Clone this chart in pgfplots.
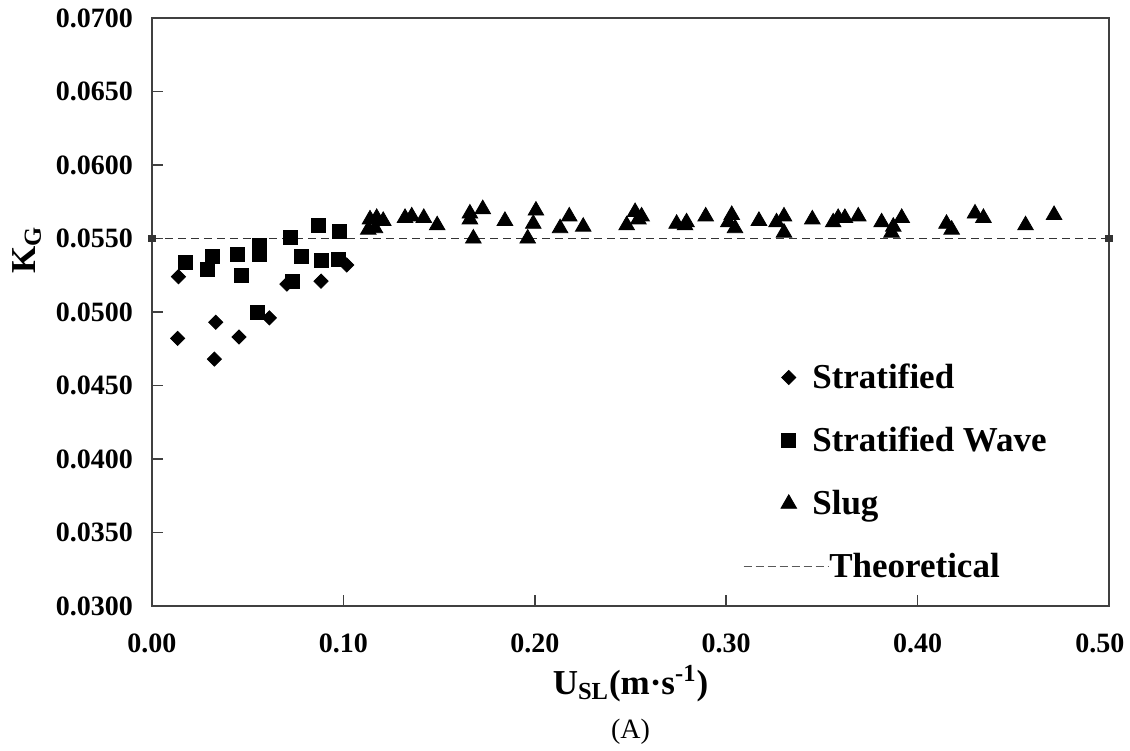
\documentclass[border=0pt]{standalone}
\usepackage{fontspec}
\setmainfont{Liberation Serif}
\usepackage{pgfplots}
\pgfplotsset{compat=1.18}

\begin{document}
\begin{tikzpicture}
\useasboundingbox (-76pt,-72pt) rectangle (489pt,303pt);
\begin{axis}[
    name=ax,
    at={(0pt,0pt)}, anchor=south west,
    scale only axis,
    width=478.5pt, height=294pt,
    xmin=0, xmax=0.5, ymin=0.03, ymax=0.07,
    clip=false,
    xtick={0,0.1,0.2,0.3,0.4,0.5},
    xticklabels={0.00,0.10,0.20,0.30,0.40,\hspace*{-9pt}0.50},
    ytick={0.030,0.035,0.040,0.045,0.050,0.055,0.060,0.065,0.070},
    scaled x ticks=false, scaled y ticks=false,
    tick align=inside, xtick pos=bottom, ytick pos=left,
    major tick length=5.5pt,
    axis line style={black!75, line width=1pt},
    tick style={black!75, line width=0.8pt},
    /pgf/number format/assume math mode=true,
    tick label style={font=\fontsize{14}{16}\selectfont\bfseries},
    xticklabel style={yshift=-10.5pt},
    yticklabel style={xshift=-6pt, /pgf/number format/.cd, fixed, fixed zerofill, precision=4},
    xlabel={U\textsubscript{SL}(m·s\textsuperscript{-1})},
    ylabel={K\textsubscript{G}},
    label style={font=\fontsize{17.5}{20}\selectfont\bfseries},
    xlabel style={at={(ticklabel cs:0.5,-0.5pt)}},
    ylabel style={at={(ticklabel cs:0.605,0.5pt)}},
    legend style={
        draw=none, fill=none,
        font=\fontsize{17.5}{21}\selectfont\bfseries,
        at={(rel axis cs:0.611,0.4265)}, anchor=north west,
        row sep=13.8pt
    },
    legend cell align=left
]

% Stratified
\addplot[only marks, mark=square*, mark size=2.5pt, mark options={rotate=45}, black] coordinates {
    (0.0138,0.0524) (0.0134,0.0482) (0.0333,0.0493) (0.0326,0.0468)
    (0.0455,0.0483) (0.0613,0.0496) (0.0705,0.0519) (0.0883,0.0521)
    (0.1017,0.0532)
};
\addlegendentry{\hspace*{-10.5pt}Stratified}

% Stratified Wave
\addplot[only marks, mark=square*, mark size=3.5pt, black] coordinates {
    (0.0176,0.0534) (0.0289,0.0529) (0.0315,0.0538) (0.0448,0.0539)
    (0.0465,0.0525) (0.0559,0.0545) (0.0559,0.0539) (0.0550,0.0500)
    (0.0721,0.0551) (0.0735,0.0521) (0.0778,0.0538) (0.0869,0.0559)
    (0.0883,0.0535) (0.0979,0.0555) (0.0974,0.0536)
};
\addlegendentry{\hspace*{-10.5pt}Stratified Wave}

% Slug
\addplot[only marks, mark=triangle*, mark size=4.5pt, black] coordinates {
    (0.1130,0.0556) (0.1165,0.0557) (0.1139,0.0563) (0.1174,0.0564)
    (0.1208,0.0562) (0.1322,0.0564) (0.1357,0.0565) (0.1420,0.0564)
    (0.1490,0.0559) (0.1661,0.0567) (0.1661,0.0563) (0.1728,0.0570)
    (0.1679,0.0550) (0.1844,0.0562) (0.2006,0.0569) (0.1992,0.0560)
    (0.1963,0.0550) (0.2132,0.0557) (0.2180,0.0565) (0.2253,0.0558)
    (0.2480,0.0559) (0.2524,0.0568) (0.2541,0.0563) (0.2558,0.0565)
    (0.2741,0.0560) (0.2785,0.0559) (0.2793,0.0561) (0.2893,0.0565)
    (0.3011,0.0561) (0.3029,0.0566) (0.3046,0.0557) (0.3171,0.0562)
    (0.3263,0.0561) (0.3302,0.0565) (0.3302,0.0554) (0.3450,0.0563)
    (0.3559,0.0561) (0.3585,0.0564) (0.3620,0.0564) (0.3690,0.0565)
    (0.3812,0.0561) (0.3873,0.0558) (0.3917,0.0564) (0.3864,0.0554)
    (0.4151,0.0560) (0.4178,0.0556) (0.4300,0.0567) (0.4344,0.0564)
    (0.4564,0.0559) (0.4713,0.0566)
};
\addlegendentry{\hspace*{-10.5pt}Slug}

% Theoretical
\addplot[black!80, line width=0.7pt, dash pattern=on 4pt off 2.5pt,
    mark=square*, mark size=1.6pt, mark options={solid},
    legend image code/.code={\draw[black!65, line width=0.6pt, dash pattern=on 4pt off 2pt] (-14pt,0pt) -- (28.5pt,0pt);}
] coordinates {(0,0.055) (0.5,0.055)};
\addlegendentry{\hspace*{-2pt}Theoretical}

\end{axis}
\node[anchor=base, font=\fontsize{14}{16}\selectfont] at ([yshift=-66pt]ax.south) {(A)};
\end{tikzpicture}
\end{document}
